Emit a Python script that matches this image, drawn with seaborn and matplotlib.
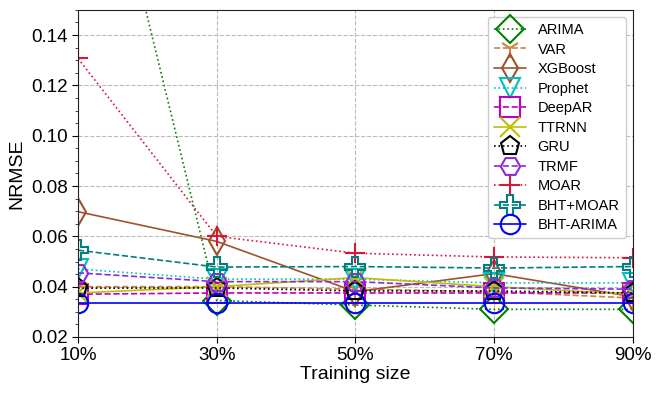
import matplotlib
matplotlib.use("Agg")
import matplotlib.pyplot as plt
import seaborn as sns
from matplotlib.ticker import MultipleLocator

train_size = [10, 30, 50, 70, 90]
tick_labels = ['10%', '30%', '50%', '70%', '90%']

arima = [0.26, 0.0345, 0.0327, 0.031, 0.031]
var = [0.040, 0.040, 0.039, 0.038, 0.0355]
xgboost = [0.0698, 0.058, 0.038, 0.0452, 0.036]
prophet = [0.047, 0.043, 0.043, 0.0415, 0.0415]
deepar = [0.037, 0.0375, 0.0375, 0.0375, 0.0375]
ttrnn = [0.0375, 0.040, 0.0436, 0.040, 0.037]
gru = [0.0394, 0.0395, 0.0383, 0.0383, 0.0375]
trmf = [0.0455, 0.042, 0.042, 0.0395, 0.039]
moar = [0.1307, 0.060, 0.0533, 0.0518, 0.0515]
bht_moar = [0.0545, 0.0478, 0.048, 0.0474, 0.048]
bht_arima = [0.0335, 0.0335, 0.0335, 0.0335, 0.0335]

series = [
    ('ARIMA', arima, 'green', 'D', ':'),
    ('VAR', var, 'peru', '1', '--'),
    ('XGBoost', xgboost, 'sienna', 'd', '-'),
    ('Prophet', prophet, 'c', 'v', ':'),
    ('DeepAR', deepar, 'm', 's', '--'),
    ('TTRNN', ttrnn, 'y', 'x', '-'),
    ('GRU', gru, 'k', 'p', ':'),
    ('TRMF', trmf, 'blueviolet', 'H', '--'),
    ('MOAR', moar, 'crimson', '+', ':'),
    ('BHT+MOAR', bht_moar, 'teal', 'P', '--'),
    ('BHT-ARIMA', bht_arima, 'blue', 'o', '-'),
]

sns.set_style("ticks")
plt.rcParams['font.family'] = ['Liberation Sans', 'DejaVu Sans']
plt.rcParams['text.color'] = 'black'

fig = plt.figure(figsize=(6.64, 3.96), dpi=100)
ax = fig.add_axes([0.1175, 0.149, 0.8355, 0.826])

for name, vals, col, mk, ls in series:
    sns.lineplot(x=train_size, y=vals, ax=ax, color=col, marker=mk,
                 linestyle=ls, linewidth=1.2, markersize=14,
                 markerfacecolor='none', markeredgecolor=col,
                 markeredgewidth=1.5, label=name)

ax.set_xlim(10, 90)
ax.set_ylim(0.02, 0.15)
ax.set_xticks(train_size)
ax.set_xticklabels(tick_labels)
ax.set_yticks([0.02, 0.04, 0.06, 0.08, 0.10, 0.12, 0.14])
ax.set_yticklabels(['0.02', '0.04', '0.06', '0.08', '0.10', '0.12', '0.14'])
ax.yaxis.set_minor_locator(MultipleLocator(0.005))
ax.tick_params(axis='both', labelsize=13.5, length=4, colors='black')
ax.tick_params(axis='y', which='minor', length=2.5)
ax.grid(True, linestyle='--', color='#bbbbbb', linewidth=0.8)
for sp in ax.spines.values():
    sp.set_visible(True)
    sp.set_color('#222222')
ax.set_xlabel('Training size', fontsize=14, labelpad=1, color='black')
ax.set_ylabel('NRMSE', fontsize=14, color='black')

ax.legend(loc='upper right', fontsize=10.5, labelspacing=0.38,
          handlelength=2.2, borderpad=0.4, framealpha=1, borderaxespad=0.5)

fig.savefig('out.png', dpi=100)
